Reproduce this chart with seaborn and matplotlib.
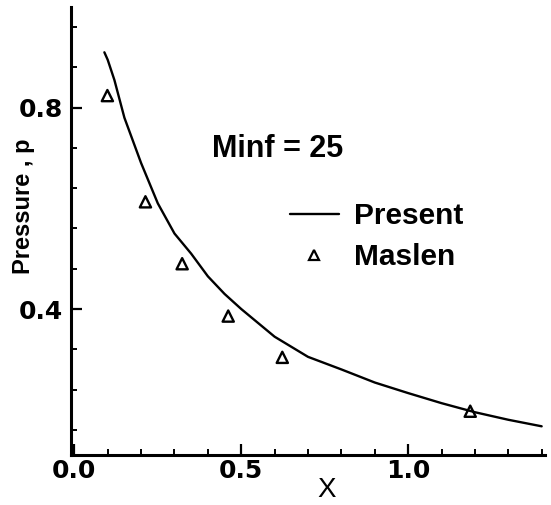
import matplotlib
matplotlib.use("Agg")
import matplotlib.pyplot as plt
from matplotlib.lines import Line2D
from matplotlib.ticker import FixedLocator
import pandas as pd
import seaborn as sns

# Present computation: surface pressure distribution along the body
x_present = [0.09, 0.10, 0.12, 0.15, 0.20, 0.25, 0.30, 0.35, 0.40, 0.45, 0.50,
             0.60, 0.70, 0.80, 0.90, 1.00, 1.10, 1.20, 1.30, 1.40]
p_present = [0.91, 0.895, 0.855, 0.78, 0.69, 0.61, 0.55, 0.51, 0.465, 0.43, 0.40,
             0.345, 0.305, 0.28, 0.254, 0.233, 0.213, 0.195, 0.18, 0.167]

# Maslen reference values
x_maslen = [0.099, 0.213, 0.323, 0.461, 0.623, 1.186]
p_maslen = [0.824, 0.613, 0.49, 0.386, 0.304, 0.197]

x_major = [0.0, 0.5, 1.0]
x_minor = [0.1, 0.2, 0.3, 0.4, 0.6, 0.7, 0.8, 0.9, 1.1, 1.2, 1.3, 1.4]
y_major = [0.4, 0.8]
y_minor = [0.16, 0.24, 0.32, 0.48, 0.56, 0.64, 0.72, 0.88, 0.96]

series_labels = ["Present", "Maslen"]
annotation = "Minf = 25"

sns.set_style("ticks")
plt.rcParams["font.family"] = ["Liberation Sans", "DejaVu Sans"]
for key in ("text.color", "axes.labelcolor", "xtick.color", "ytick.color",
            "axes.edgecolor"):
    plt.rcParams[key] = "black"

df_present = pd.DataFrame({"x": x_present, "p": p_present})
df_maslen = pd.DataFrame({"x": x_maslen, "p": p_maslen})

fig = plt.figure(figsize=(5.51, 5.05), dpi=100)
ax = fig.add_axes([71 / 551, 50 / 505, 474 / 551, 448 / 505])

sns.lineplot(data=df_present, x="x", y="p", ax=ax, color="black",
             linewidth=1.7, sort=True)
sns.scatterplot(data=df_maslen, x="x", y="p", ax=ax, marker="^", s=65,
                facecolor="none", edgecolor="black", linewidth=1.7, zorder=3)
ax.collections[-1].set_facecolor("none")

ax.set_xlim(-0.01, 1.41)
ax.set_ylim(0.11, 1.0)

ax.xaxis.set_major_locator(FixedLocator(x_major))
ax.xaxis.set_minor_locator(FixedLocator(x_minor))
ax.yaxis.set_major_locator(FixedLocator(y_major))
ax.yaxis.set_minor_locator(FixedLocator(y_minor))
ax.set_xticklabels([f"{v:.1f}" for v in x_major])
ax.set_yticklabels([f"{v:.1f}" for v in y_major])

ax.tick_params(axis="both", which="major", direction="in", length=8,
               width=1.6)
ax.tick_params(axis="both", which="minor", direction="in", length=4.5,
               width=1.4)
ax.tick_params(axis="x", which="major", pad=3)
ax.tick_params(axis="y", which="major", pad=6)
for lab in ax.get_xticklabels() + ax.get_yticklabels():
    lab.set_fontfamily("DejaVu Sans")
    lab.set_fontweight("bold")
    lab.set_fontsize(18)

for side in ("top", "right"):
    ax.spines[side].set_visible(False)
for side in ("left", "bottom"):
    ax.spines[side].set_linewidth(2.2)

ax.set_xlabel("X", fontsize=20)
ax.set_ylabel("Pressure , p", fontsize=17, fontweight="bold")
ax.xaxis.set_label_coords(0.54, -0.05)
ax.yaxis.set_label_coords(-0.075, 0.555)

ax.text(0.608, 0.718, annotation, fontsize=22, fontweight="bold",
        ha="center", va="center")

handles = [
    Line2D([], [], color="black", linewidth=1.7),
    Line2D([], [], color="black", linestyle="none", marker="^",
           markersize=7.5, markerfacecolor="none", markeredgewidth=1.6),
]
leg = ax.legend(handles, series_labels, loc="upper left",
                bbox_to_anchor=(290 / 551, 1 - 202 / 505),
                bbox_transform=fig.transFigure, frameon=False,
                borderpad=0, borderaxespad=0, handlelength=1.64,
                handletextpad=0.5, labelspacing=0.45,
                prop={"size": 21.5, "weight": "bold"})

fig.savefig("out.png", dpi=100)
